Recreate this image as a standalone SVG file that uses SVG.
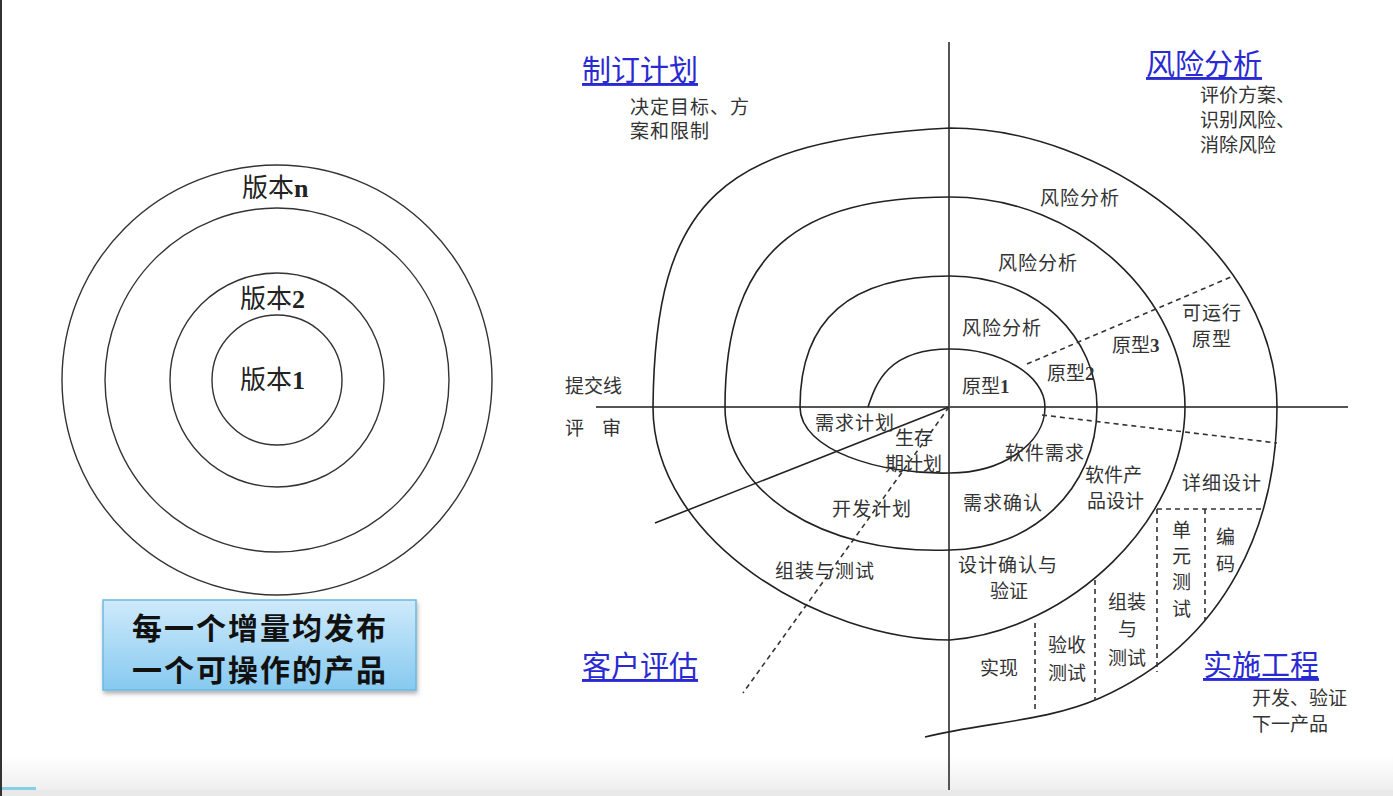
<svg xmlns="http://www.w3.org/2000/svg" width="1393" height="796" viewBox="0 0 1393 796">
<defs>
<style>
.ring{fill:none;stroke:#333;stroke-width:1.4}
.sp{fill:none;stroke:#222;stroke-width:1.6}
.axis{stroke:#555;stroke-width:2}
.dash{fill:none;stroke:#333;stroke-width:1.6;stroke-dasharray:5 4}
.ver{font-family:"Liberation Serif","Noto Sans CJK SC",serif;font-size:26px;fill:#222}
.lb{font-family:"Liberation Serif","Noto Sans CJK SC",serif;font-size:19px;fill:#333}
.hd{font-family:"Noto Sans CJK SC",sans-serif;font-size:29px;fill:#2a2ad2;text-decoration:underline}
.box{font-family:"Noto Sans CJK SC",sans-serif;font-size:30px;font-weight:700;fill:#111;letter-spacing:2px}
</style>
<linearGradient id="boxg" x1="0" y1="0" x2="0" y2="1">
<stop offset="0" stop-color="#cfeafb"/>
<stop offset="1" stop-color="#86c9f0"/>
</linearGradient>
<linearGradient id="bot" x1="0" y1="0" x2="0" y2="1">
<stop offset="0" stop-color="#ffffff"/>
<stop offset="1" stop-color="#ececec"/>
</linearGradient>
<filter id="sh" x="-10%" y="-10%" width="120%" height="130%">
<feDropShadow dx="1" dy="3" stdDeviation="2" flood-color="#000" flood-opacity="0.3"/>
</filter>
</defs>
<rect x="0" y="0" width="1393" height="796" fill="#fff"/>
<rect x="0" y="755" width="1393" height="41" fill="url(#bot)"/>
<rect x="0" y="790" width="1393" height="6" fill="#e9e9e9"/>
<rect x="0" y="787" width="36" height="3" fill="#86cfe6"/>
<rect x="0" y="0" width="2" height="796" fill="#333"/>

<g id="rings">
<circle class="ring" cx="277" cy="380" r="215"/>
<circle class="ring" cx="277" cy="380" r="172"/>
<circle class="ring" cx="277" cy="380" r="107"/>
<circle class="ring" cx="277" cy="380" r="65"/>
<text class="ver" x="242" y="197">版本<tspan font-weight="700">n</tspan></text>
<text class="ver" x="240" y="308">版本<tspan font-weight="700">2</tspan></text>
<text class="ver" x="240" y="389">版本<tspan font-weight="700">1</tspan></text>
</g>

<g id="note">
<rect x="103" y="600" width="313" height="90" fill="url(#boxg)" stroke="#6cb9e2" stroke-width="1.5" filter="url(#sh)"/>
<text class="box" x="260" y="639" text-anchor="middle">每一个增量均发布</text>
<text class="box" x="260" y="681" text-anchor="middle">一个可操作的产品</text>
</g>

<g id="connectors">
<line class="axis" x1="949" y1="42" x2="949" y2="790"/>
<line class="axis" x1="596" y1="407" x2="1348" y2="407"/>
<path class="sp" d="M868,407 C876,383 888,349 950,349 C1000,349 1045,375 1045,407 C1045,445 1000,473 950,473 C880,475 800,450 800,407 C800,320 850,276 950,276 C1040,276 1097,340 1097,407 C1097,490 1030,550 950,550 C820,555 725,490 725,407 C725,250 800,197 950,197 C1080,197 1185,300 1185,407 C1185,520 1070,630 950,640 C820,640 653,540 653,407 C655,200 720,140 950,128 C1100,128 1277,250 1277,407 C1277,520 1230,640 1100,698 C1045,722 985,722 925,737"/>
<line class="sp" x1="949" y1="407" x2="655" y2="523"/>
<line class="dash" x1="949" y1="407" x2="743" y2="693"/>
<line class="dash" x1="1027" y1="364" x2="1231" y2="277"/>
<line class="dash" x1="1042" y1="415" x2="1277" y2="443"/>
<line class="dash" x1="1157" y1="509" x2="1264" y2="509"/>
<line class="dash" x1="1205" y1="509" x2="1205" y2="620"/>
<line class="dash" x1="1157" y1="509" x2="1157" y2="672"/>
<line class="dash" x1="1095" y1="580" x2="1095" y2="700"/>
<line class="dash" x1="1035" y1="623" x2="1035" y2="710"/>
</g>

<g id="quadrant-plan">
<text class="hd" x="582" y="81">制订计划</text>
<text class="lb" x="630" y="114" letter-spacing="1">决定目标、方</text>
<text class="lb" x="630" y="138" letter-spacing="1">案和限制</text>
</g>
<g id="quadrant-risk">
<text class="hd" x="1146" y="75">风险分析</text>
<text class="lb" x="1200" y="102">评价方案、</text>
<text class="lb" x="1200" y="127">识别风险、</text>
<text class="lb" x="1200" y="152">消除风险</text>
</g>
<g id="quadrant-eval">
<text class="hd" x="582" y="677">客户评估</text>
</g>
<g id="quadrant-eng">
<text class="hd" x="1203" y="676">实施工程</text>
<text class="lb" x="1252" y="705">开发、验证</text>
<text class="lb" x="1252" y="731">下一产品</text>
</g>

<g id="axis-labels">
<text class="lb" x="565" y="393">提交线</text>
<text class="lb" x="565" y="435">评<tspan x="602">审</tspan></text>
</g>

<g id="risk-labels">
<text class="lb" x="1040" y="205" letter-spacing="1">风险分析</text>
<text class="lb" x="998" y="270" letter-spacing="1">风险分析</text>
<text class="lb" x="962" y="335" letter-spacing="1">风险分析</text>
</g>
<g id="prototypes">
<text class="lb" x="962" y="393">原型<tspan font-weight="700">1</tspan></text>
<text class="lb" x="1047" y="380">原型<tspan font-weight="700">2</tspan></text>
<text class="lb" x="1112" y="352">原型<tspan font-weight="700">3</tspan></text>
<text class="lb" x="1182" y="320" letter-spacing="1">可运行</text>
<text class="lb" x="1192" y="346" letter-spacing="1">原型</text>
</g>
<g id="plan-labels">
<text class="lb" x="815" y="430" letter-spacing="1">需求计划</text>
<text class="lb" x="895" y="445">生存</text>
<text class="lb" x="885" y="471">期计划</text>
<text class="lb" x="832" y="516" letter-spacing="1">开发计划</text>
<text class="lb" x="775" y="578" letter-spacing="1">组装与测试</text>
</g>
<g id="eng-labels">
<text class="lb" x="1005" y="460" letter-spacing="1">软件需求</text>
<text class="lb" x="1085" y="482">软件产</text>
<text class="lb" x="1087" y="508">品设计</text>
<text class="lb" x="1182" y="490" letter-spacing="1">详细设计</text>
<text class="lb" x="963" y="510" letter-spacing="1">需求确认</text>
<text class="lb" x="958" y="572" letter-spacing="1">设计确认与</text>
<text class="lb" x="990" y="598">验证</text>
<text class="lb" x="1172" y="537">单</text>
<text class="lb" x="1172" y="563">元</text>
<text class="lb" x="1172" y="589">测</text>
<text class="lb" x="1172" y="616">试</text>
<text class="lb" x="1216" y="544">编</text>
<text class="lb" x="1216" y="571">码</text>
<text class="lb" x="1108" y="609">组装</text>
<text class="lb" x="1118" y="636">与</text>
<text class="lb" x="1108" y="665">测试</text>
<text class="lb" x="1048" y="652">验收</text>
<text class="lb" x="1048" y="680">测试</text>
<text class="lb" x="980" y="675">实现</text>
</g>
</svg>
